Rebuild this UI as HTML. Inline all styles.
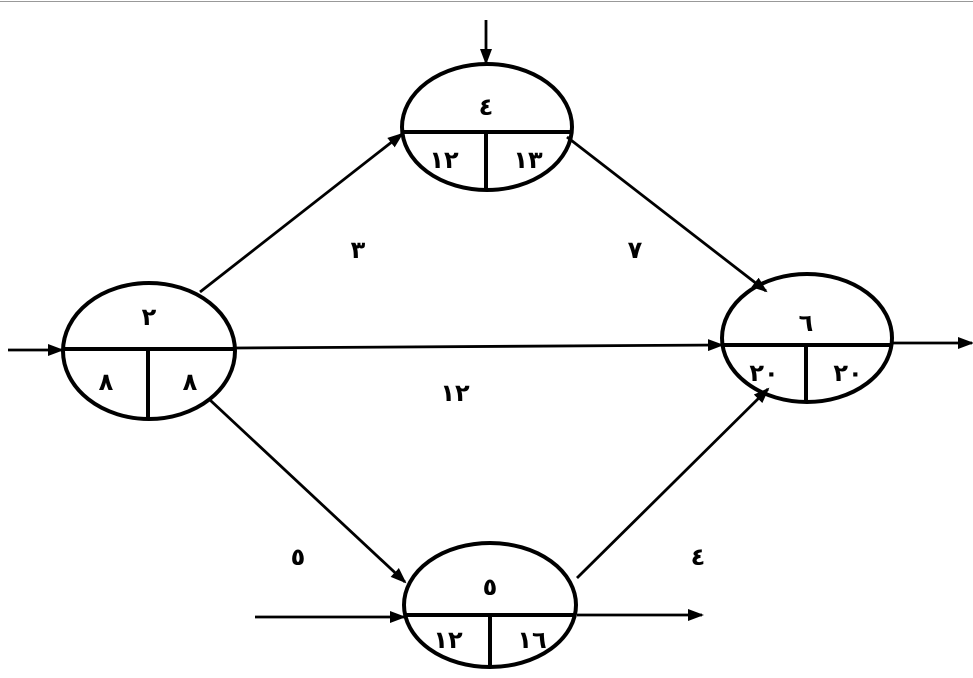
<!DOCTYPE html>
<html><head><meta charset="utf-8"><style>
html,body{margin:0;padding:0;background:#fff;}
svg{display:block;}
text{font-family:"Liberation Sans","DejaVu Sans",sans-serif;font-size:24px;font-weight:bold;fill:#000;text-anchor:middle;}
</style></head><body>
<svg width="973" height="678" viewBox="0 0 973 678">
<defs><marker id="a" markerWidth="16" markerHeight="12" refX="14" refY="6" orient="auto" markerUnits="userSpaceOnUse"><path d="M0,0 L16,6 L0,12 Z" fill="#000"/></marker></defs>
<line x1="0" y1="1.5" x2="973" y2="1.5" stroke="#999" stroke-width="1"/>
<g stroke="#000" stroke-width="4" fill="none">
<ellipse cx="149" cy="351" rx="86" ry="68"/>
<line x1="62" y1="349" x2="236" y2="349"/><line x1="148" y1="349" x2="148" y2="419"/>
<ellipse cx="487" cy="127" rx="85" ry="63"/>
<line x1="402" y1="132" x2="572" y2="132"/><line x1="486" y1="132" x2="486" y2="189"/>
<ellipse cx="807" cy="338" rx="85" ry="64"/>
<line x1="722" y1="345" x2="892" y2="345"/><line x1="806" y1="345" x2="806" y2="400"/>
<ellipse cx="490" cy="605" rx="86" ry="62"/>
<line x1="404" y1="615" x2="576" y2="615"/><line x1="490" y1="615" x2="490" y2="667"/>
</g>
<g stroke="#000" stroke-width="2.8" fill="none" marker-end="url(#a)">
<line x1="8" y1="350" x2="62" y2="350"/>
<line x1="236" y1="348" x2="722" y2="345"/>
<line x1="892" y1="343" x2="972" y2="343"/>
<line x1="486" y1="20" x2="486" y2="63"/>
<line x1="200" y1="292" x2="402" y2="134"/>
<line x1="567" y1="137" x2="766" y2="291"/>
<line x1="210" y1="400" x2="405" y2="582"/>
<line x1="577" y1="578" x2="768" y2="389"/>
<line x1="255" y1="617" x2="404" y2="617"/>
<line x1="577" y1="615" x2="702" y2="615"/>
</g>
<text x="149" y="325">٢</text>
<text x="106" y="390">٨</text><text x="190" y="390">٨</text>
<text x="486" y="115">٤</text>
<text x="444" y="168">١٢</text><text x="528" y="168">١٣</text>
<text x="806" y="331">٦</text>
<text x="764" y="381">٢٠</text><text x="848" y="381">٢٠</text>
<text x="490" y="595">٥</text>
<text x="448" y="648">١٢</text><text x="532" y="648">١٦</text>
<text x="358" y="258">٣</text>
<text x="635" y="258">٧</text>
<text x="455" y="401">١٢</text>
<text x="298" y="565">٥</text>
<text x="698" y="565">٤</text>
</svg>
</body></html>
